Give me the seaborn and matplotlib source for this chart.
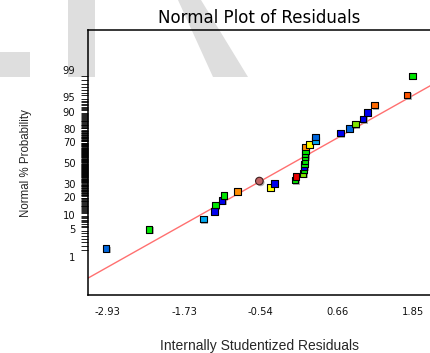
import numpy as np
import pandas as pd
import matplotlib
matplotlib.use("Agg")
import matplotlib.pyplot as plt
import matplotlib.patheffects as pe
from matplotlib.patches import Polygon
import seaborn as sns
from statistics import NormalDist

# ---------------- data ----------------
residuals = [-2.95, -2.28, -1.43, -1.255, -1.24, -1.14, -1.11, -0.895,
             -0.38, -0.32, 0.00, 0.015, 0.128, 0.14, 0.143, 0.15, 0.155,
             0.157, 0.16, 0.165, 0.17, 0.23, 0.32, 0.32, 0.71, 0.85, 0.95,
             1.067, 1.135, 1.245, 1.75, 1.835]
probability = [1.66, 4.95, 8.2, 11.5, 14.7, 17.6, 20.8, 24.1,
               27.3, 30.7, 33.7, 37.0, 39.9, 43.1, 46.4, 49.3, 52.6,
               56.2, 58.9, 62.0, 65.5, 67.9, 71.4, 74.1, 77.2, 80.6, 83.4,
               86.3, 89.6, 92.5, 95.5, 98.5]
groups = ["mblue", "green", "lblue", "blue", "green", "blue", "green", "orange",
          "yellow", "blue", "green", "red", "ygreen", "green", "blue", "green", "green",
          "green", "green", "green", "orange", "yellow", "lblue", "mblue", "blue", "mblue", "ygreen",
          "blue", "blue", "orange2", "orange3", "green"]
circle_residual = [-0.555]
circle_probability = [32.7]

line_slope = 0.895      # in normal-quantile units per residual unit
line_intercept = 0.03

y_major = [1, 5, 10, 20, 30, 50, 70, 80, 90, 95, 99]
x_ticks = [-2.93, -1.73, -0.54, 0.66, 1.85]
x_ticklabels = ["-2.93", "-1.73", "-0.54", "0.66", "1.85"]

palette = {"mblue": "#0066dd", "green": "#00e600", "lblue": "#00a8f0",
           "blue": "#0000f0", "orange": "#ff8c00", "yellow": "#ffff00",
           "red": "#e60000", "ygreen": "#80e600", "orange2": "#ff6a00",
           "orange3": "#ff5500"}

nd = NormalDist()
df = pd.DataFrame({"res": residuals,
                   "z": [nd.inv_cdf(p / 100) for p in probability],
                   "grp": groups})
dfc = pd.DataFrame({"res": circle_residual,
                    "z": [nd.inv_cdf(p / 100) for p in circle_probability]})

# ---------------- figure ----------------
sns.set_theme(style="white")
plt.rcParams["font.family"] = ["DejaVu Sans"]

fig = plt.figure(figsize=(4.31, 3.53), dpi=100)
fig.patch.set_facecolor("white")

# background watermark shapes (figure pixel coords -> fraction)
W, H = 431, 353
def poly(pts):
    return Polygon([(x / W, 1 - y / H) for x, y in pts], closed=True,
                   transform=fig.transFigure, facecolor="#dedede",
                   edgecolor="none", zorder=-10)
for pts in ([(0, 52), (30, 52), (30, 77), (0, 77)],
            [(68, 0), (95, 0), (95, 77), (68, 77)],
            [(178, 0), (201, 0), (248, 77), (213, 77)]):
    fig.patches.append(poly(pts))

ax = fig.add_axes([88 / W, 1 - 295.3 / H, (W - 88) / W, (295.3 - 30) / H])
ax.set_facecolor("none")
ax.set_zorder(1)

xlim = (-3.232, 2.127)
ylim = (-3.29, 3.31)

# fitted reference line
line_df = pd.DataFrame({"res": list(xlim),
                        "z": [line_intercept + line_slope * v for v in xlim]})
sns.lineplot(data=line_df, x="res", y="z", ax=ax, color="#ff7070",
             linewidth=1.0, zorder=2)

shadow = [pe.SimplePatchShadow(offset=(1.0, -1.0), shadow_rgbFace="#909090", alpha=0.7),
          pe.Normal()]

sns.scatterplot(data=df, x="res", y="z", hue="grp", palette=palette,
                marker="s", s=22, edgecolor="black", linewidth=0.8,
                legend=False, ax=ax, zorder=3)
for coll in ax.collections:
    coll.set_path_effects(shadow)

n_before = len(ax.collections)
sns.scatterplot(data=dfc, x="res", y="z", marker="o", s=30, color="#c06464",
                edgecolor="#402020", linewidth=0.8, legend=False, ax=ax, zorder=3)
for coll in ax.collections[n_before:]:
    coll.set_path_effects(shadow)

ax.set_xlim(*xlim)
ax.set_ylim(*ylim)

ax.set_xticks(x_ticks)
ax.set_xticklabels(x_ticklabels)
ax.set_yticks([nd.inv_cdf(p / 100) for p in y_major])
ax.set_yticklabels([str(p) for p in y_major])
minor = [p / 2 for p in range(2, 199) if p / 2 not in y_major]
ax.set_yticks([nd.inv_cdf(p / 100) for p in minor], minor=True)

ax.tick_params(axis="both", which="major", direction="out", length=6,
               width=0.8, color="black", labelsize=7.2, labelcolor="#111111",
               pad=3)
ax.tick_params(axis="y", which="minor", direction="out", length=5,
               width=0.6, color="black", left=True)
ax.tick_params(axis="x", which="major", pad=2.5)

for side in ["left", "bottom", "top"]:
    ax.spines[side].set_visible(True)
    ax.spines[side].set_color("black")
    ax.spines[side].set_linewidth(1.1)
ax.spines["right"].set_visible(False)

ax.set_title("Normal Plot of Residuals", fontsize=12, color="black", pad=5)
ax.set_xlabel("Internally Studentized Residuals", fontsize=10,
              family=["Liberation Sans", "DejaVu Sans"], labelpad=16)
ax.set_ylabel("Normal % Probability", fontsize=8.3,
              family=["Liberation Sans", "DejaVu Sans"], labelpad=22)
ax.grid(False)

fig.savefig("out.png", dpi=100)
